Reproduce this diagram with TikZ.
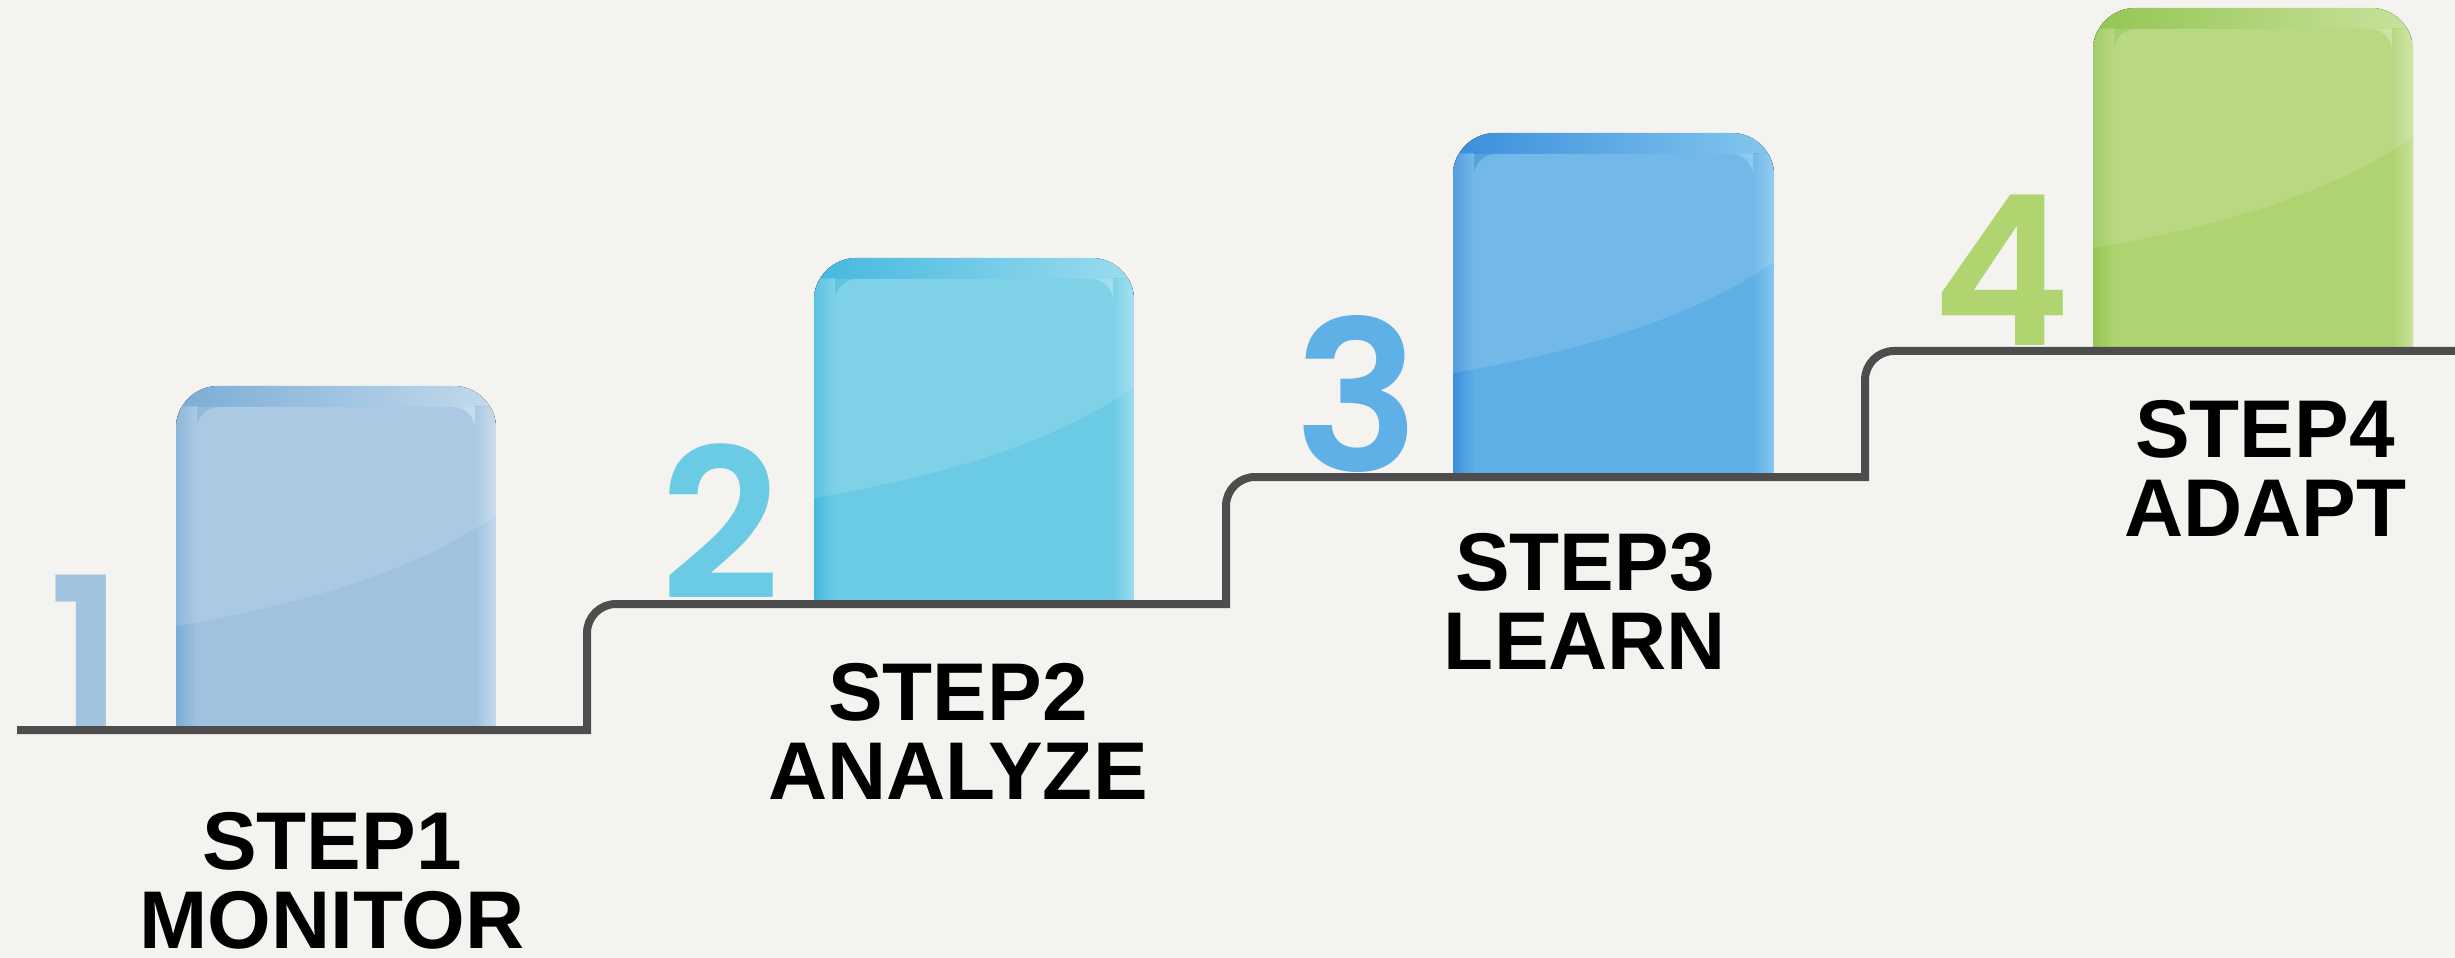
\documentclass[tikz,border=0pt]{standalone}
\usepackage{fontspec}
\newfontfamily\labelfont{Liberation Sans}
\newfontfamily\numfont{Poppins SemiBold}

\definecolor{bg}{HTML}{F4F3EF}
\definecolor{stairgray}{HTML}{4D4D4D}
\definecolor{bA}{HTML}{A0C2DF}\definecolor{dA}{HTML}{7BADD6}\definecolor{lA}{HTML}{C3DAEC}\definecolor{nA}{HTML}{A0C3E0}
\definecolor{bB}{HTML}{6CCBE4}\definecolor{dB}{HTML}{45B8DE}\definecolor{lB}{HTML}{9BDCEF}\definecolor{nB}{HTML}{6CCBE4}
\definecolor{bC}{HTML}{5EAFE6}\definecolor{dC}{HTML}{3A8EDB}\definecolor{lC}{HTML}{84C7EF}\definecolor{nC}{HTML}{5EB0E6}
\definecolor{bD}{HTML}{AFD370}\definecolor{dD}{HTML}{94C553}\definecolor{lD}{HTML}{C8E29C}\definecolor{nD}{HTML}{AFD470}

% glossy block with rounded top corners
% #1 left, #2 top, #3 right, #4 bottom, #5 body, #6 dark edge, #7 light edge
\newcommand\stepblock[7]{%
  \begin{scope}
    \clip (#1,#4) -- (#1,{#2+42}) .. controls (#1,{#2+19}) and ({#1+19},#2) .. ({#1+42},#2)
      -- ({#3-42},#2) .. controls ({#3-19},#2) and (#3,{#2+19}) .. (#3,{#2+42}) -- (#3,#4) -- cycle;
    \fill[left color=#6, right color=#7] (#1,#2) rectangle (#3,#4);
    \fill[left color=#6, right color=#5] (#1,{#2+21}) rectangle ({#1+21},#4);
    \fill[left color=#5, right color=#7] ({#3-21},{#2+21}) rectangle (#3,#4);
    \fill[#5] ({#1+21},#4) -- ({#1+21},{#2+43}) .. controls ({#1+21},{#2+31}) and ({#1+31},{#2+21}) .. ({#1+43},{#2+21})
      -- ({#3-43},{#2+21}) .. controls ({#3-31},{#2+21}) and ({#3-21},{#2+31}) .. ({#3-21},{#2+43}) -- ({#3-21},#4) -- cycle;
    \fill[white, fill opacity=0.13] (#1,{#2+21}) -- (#1,{#2+240})
      .. controls ({#1+128},{#2+218}) and ({#1+240},{#2+185}) .. (#3,{#2+129}) -- (#3,{#2+21}) -- cycle;
  \end{scope}}

\begin{document}
\begin{tikzpicture}[x=0.1mm, y=-0.1mm,
  steplabel/.style={font=\labelfont\bfseries\fontsize{23.3pt}{22.5pt}\selectfont,
    align=center, inner sep=0pt, anchor=north, text=black},
  stepnum/.style={font=\numfont\fontsize{59.5pt}{60pt}\selectfont,
    inner sep=0pt, anchor=base},
  stair/.style={draw=stairgray, line width=0.8mm}]

  % canvas
  \fill[bg] (0,0) rectangle (2455,958);
  \useasboundingbox (0,0) rectangle (2455,958);

  % blocks
  \stepblock{176}{386}{496}{730}{bA}{dA}{lA}
  \stepblock{814}{258}{1134}{604}{bB}{dB}{lB}
  \stepblock{1453}{133}{1774}{477}{bC}{dC}{lC}
  \stepblock{2093}{8}{2413}{351}{bD}{dD}{lD}

  % step numbers
  \node[stepnum, text=nA] (num1) at (86,727) {1};
  \node[stepnum, text=nB] (num2) at (721,599) {2};
  \node[stepnum, text=nC] (num3) at (1357,472) {3};
  \node[stepnum, text=nD] (num4) at (2002,345) {4};

  % staircase
  \coordinate (s0) at (17,730);
  \coordinate (s5) at (2455,351);
  \draw[stair] (s0) -- (587,730) -- (587,633) .. controls (587,617) and (600,604) .. (616,604)
    -- (1226,604) -- (1226,506) .. controls (1226,490) and (1239,477) .. (1255,477)
    -- (1865,477) -- (1865,380) .. controls (1865,364) and (1878,351) .. (1894,351) -- (s5);

  % captions
  \node[steplabel] (lab1) at (332,812) {STEP1\\MONITOR};
  \node[steplabel] (lab2) at (958,663) {STEP2\\ANALYZE};
  \node[steplabel] (lab3) at (1585,533) {STEP3\\LEARN};
  \node[steplabel] (lab4) at (2265,400) {STEP4\\ADAPT};
\end{tikzpicture}
\end{document}
